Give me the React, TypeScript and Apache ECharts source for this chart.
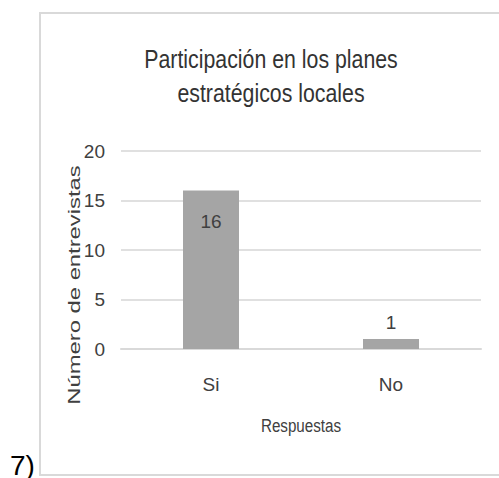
import React, { useEffect, useRef } from "react";
import * as echarts from "echarts";

const categories = ["Si", "No"];
const values = [16, 1];
const yTicks = { min: 0, max: 20, interval: 5 };
const titleLines = ["Participación en los planes", "estratégicos locales"];
const yAxisTitle = "Número de entrevistas";
const xAxisTitle = "Respuestas";
const figureLabel = "7)";

const ARIAL = "'Liberation Sans', Arial, sans-serif";

export default function App() {
  const ref = useRef<HTMLDivElement>(null);
  useEffect(() => {
    if (!ref.current) return;
    const chart = echarts.init(ref.current, null, { renderer: "svg" });
    const data = values.map((v, i) => ({
      value: v,
      label:
        i === 0
          ? { show: true, position: "insideTop", distance: 21 }
          : { show: true, position: "top", distance: 7 },
    }));
    chart.setOption({
      animation: false,
      backgroundColor: "#ffffff",
      grid: { left: 121, right: 18, top: 151, bottom: 129, containLabel: false },
      xAxis: {
        type: "category",
        data: categories,
        axisLine: { show: true, lineStyle: { color: "#d9d9d9", width: 2 } },
        axisTick: { show: false },
        axisLabel: { margin: 26, fontSize: 19, color: "#404040", fontFamily: ARIAL },
      },
      yAxis: {
        type: "value",
        min: yTicks.min,
        max: yTicks.max,
        interval: yTicks.interval,
        axisLine: { show: false },
        axisTick: { show: false },
        axisLabel: { margin: 16, fontSize: 19, color: "#404040", fontFamily: ARIAL },
        splitLine: { lineStyle: { color: "#e0e0e0", width: 2 } },
      },
      series: [
        {
          type: "bar",
          data,
          barWidth: 56,
          itemStyle: { color: "#a5a5a5" },
          label: { fontSize: 19, color: "#404040", fontFamily: ARIAL },
        },
      ],
      graphic: [
        {
          type: "rect",
          shape: { x: 40, y: 13, width: 520, height: 462 },
          style: { fill: "none", stroke: "#d9d9d9", lineWidth: 2 },
          silent: true,
        },
        {
          type: "text",
          x: 271,
          y: 59,
          scaleX: 0.82,
          style: {
            text: titleLines[0],
            fontSize: 26,
            fontFamily: ARIAL,
            fill: "#333333",
            align: "center",
            verticalAlign: "middle",
          },
        },
        {
          type: "text",
          x: 271,
          y: 93,
          scaleX: 0.82,
          style: {
            text: titleLines[1],
            fontSize: 26,
            fontFamily: ARIAL,
            fill: "#333333",
            align: "center",
            verticalAlign: "middle",
          },
        },
        {
          type: "text",
          x: 301,
          y: 425,
          scaleX: 0.8,
          style: {
            text: xAxisTitle,
            fontSize: 19,
            fontFamily: ARIAL,
            fill: "#404040",
            align: "center",
            verticalAlign: "middle",
          },
        },
        {
          type: "text",
          x: 74,
          y: 285,
          rotation: Math.PI / 2,
          scaleX: 1.4,
          scaleY: 0.95,
          style: {
            text: yAxisTitle,
            fontSize: 17,
            fontFamily: ARIAL,
            fill: "#404040",
            align: "center",
            verticalAlign: "middle",
          },
        },
        {
          type: "text",
          x: 10,
          y: 465,
          style: {
            text: figureLabel,
            fontSize: 28,
            fontFamily: ARIAL,
            fill: "#000000",
            align: "left",
            verticalAlign: "middle",
          },
        },
      ],
    });
    return () => chart.dispose();
  }, []);
  return (
    <div
      ref={ref}
      style={{ position: "absolute", left: 0, top: 0, width: 499, height: 478 }}
    />
  );
}
